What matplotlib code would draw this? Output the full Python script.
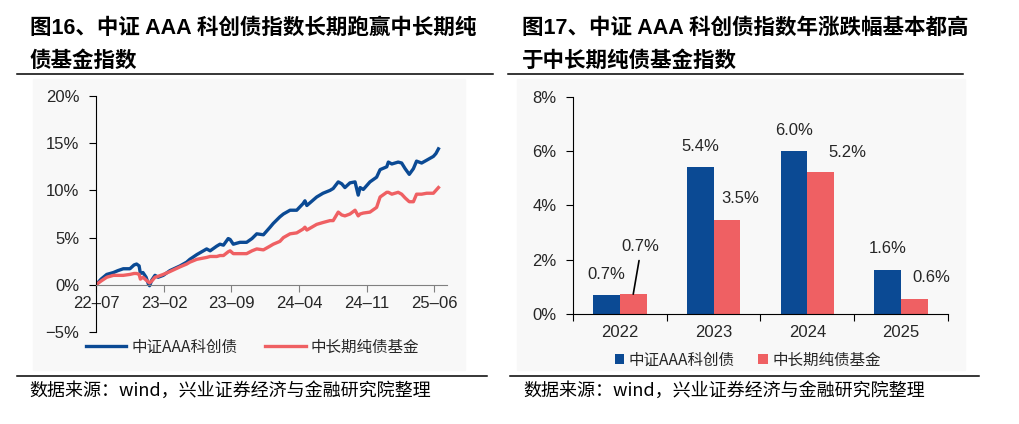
import numpy as np
import pandas as pd
import matplotlib
matplotlib.use("Agg")
import matplotlib.pyplot as plt
from matplotlib.ticker import FuncFormatter, FixedLocator
from matplotlib.patches import Rectangle
from matplotlib.lines import Line2D

plt.rcParams['font.family'] = ['Liberation Sans', 'Noto Sans CJK SC', 'DejaVu Sans']

# ---- data: 图16 cumulative returns (%) ----
dates = ['2022-07-01', '2022-07-17', '2022-08-04', '2022-08-25', '2022-09-08', '2022-09-25',
         '2022-10-16', '2022-10-29', '2022-11-06', '2022-11-14', '2022-11-18', '2022-11-26',
         '2022-12-06', '2022-12-13', '2022-12-17', '2022-12-24', '2023-01-03', '2023-01-13',
         '2023-01-29', '2023-02-19', '2023-03-23', '2023-04-13', '2023-04-23', '2023-05-15',
         '2023-06-15', '2023-06-26', '2023-07-17', '2023-07-27', '2023-08-07', '2023-08-22',
         '2023-08-28', '2023-09-07', '2023-09-28', '2023-10-19', '2023-11-05', '2023-11-20',
         '2023-12-11', '2024-01-01', '2024-01-11', '2024-02-01', '2024-02-12', '2024-03-04',
         '2024-03-25', '2024-04-14', '2024-04-20', '2024-04-26', '2024-05-27', '2024-06-16',
         '2024-07-08', '2024-07-18', '2024-08-03', '2024-08-14', '2024-08-24', '2024-09-09',
         '2024-09-25', '2024-10-05', '2024-10-11', '2024-10-21', '2024-11-11', '2024-12-02',
         '2024-12-13', '2025-01-03', '2025-01-08', '2025-01-19', '2025-02-08', '2025-02-19',
         '2025-03-02', '2025-03-15', '2025-03-28', '2025-04-07', '2025-04-23', '2025-05-09',
         '2025-05-30', '2025-06-07', '2025-06-15']
kcz = [0.0, 0.6, 1.1, 1.3, 1.5, 1.7, 1.7, 2.1, 2.2, 2.0,
       1.2, 1.3, 0.8, 0.1, -0.1, 0.5, 1.0, 0.8, 1.0, 1.5,
       2.0, 2.4, 2.7, 3.2, 3.8, 3.6, 4.1, 4.3, 4.2, 4.9,
       4.8, 4.3, 4.5, 4.5, 4.9, 5.4, 5.3, 6.1, 6.5, 7.2,
       7.5, 7.9, 7.9, 8.6, 8.9, 8.4, 9.3, 9.7, 10.0, 10.2,
       10.9, 10.7, 10.3, 10.8, 10.9, 9.5, 10.3, 10.1, 10.9, 11.4,
       12.2, 12.5, 13.0, 12.8, 13.0, 12.9, 12.3, 11.7, 12.3, 13.1,
       12.9, 13.2, 13.6, 13.9, 14.4]
fund = [0.0, 0.4, 0.8, 1.0, 1.0, 1.0, 1.1, 1.2, 1.2, 1.1,
        0.6, 0.8, 0.5, 0.3, 0.2, 0.4, 0.8, 0.9, 1.1, 1.4,
        1.9, 2.2, 2.4, 2.7, 2.9, 3.0, 3.0, 3.1, 3.1, 3.5,
        3.6, 3.3, 3.3, 3.3, 3.6, 3.8, 3.7, 4.1, 4.3, 4.6,
        5.0, 5.4, 5.5, 5.9, 6.1, 5.8, 6.4, 6.6, 6.8, 6.8,
        7.7, 7.4, 7.3, 7.5, 7.9, 7.3, 7.5, 7.6, 7.7, 8.2,
        9.3, 9.8, 9.8, 9.6, 9.8, 9.6, 9.2, 8.8, 8.8, 9.6,
        9.6, 9.7, 9.7, 10.0, 10.3]
xtick_dates = ['2022-07-01', '2023-02-01', '2023-09-01', '2024-04-01', '2024-11-01', '2025-06-01']

# ---- data: 图17 yearly returns (%) ----
years = ['2022', '2023', '2024', '2025']
kcz_year = [0.69, 5.40, 6.00, 1.62]
fund_year = [0.73, 3.47, 5.23, 0.56]
kcz_lbl = ['0.7%', '5.4%', '6.0%', '1.6%']
fund_lbl = ['0.7%', '3.5%', '5.2%', '0.6%']

name1 = '中证AAA科创债'
name2 = '中长期纯债基金'

BLUE = '#0b4a94'
RED = '#ef6063'
TXT = '#262626'
W, H = 1020, 424

fig = plt.figure(figsize=(W / 100, H / 100), dpi=100)


def fx(x):
    return x / W


def fy(y):
    return 1 - y / H


# panel backgrounds
for x0, x1 in [(33, 465), (517, 965)]:
    fig.patches.append(Rectangle((fx(x0), fy(370)), fx(x1 - x0), (370 - 79) / H,
                                 transform=fig.transFigure, color='#f8f8f8', zorder=-5))

# rules
for x0, x1, y in [(17, 493, 74), (508, 963, 74), (17, 487, 376), (510, 979, 376)]:
    fig.add_artist(Line2D([fx(x0), fx(x1)], [fy(y), fy(y)], transform=fig.transFigure,
                          color='black', lw=1.1))

# titles
tkw = dict(fontsize=15.5, fontweight='bold', va='center', color='black')
fig.text(fx(30), fy(28), '图16、中证 AAA 科创债指数长期跑赢中长期纯', **tkw)
fig.text(fx(30), fy(61), '债基金指数', **tkw)
fig.text(fx(522), fy(28), '图17、中证 AAA 科创债指数年涨跌幅基本都高', **tkw)
fig.text(fx(522), fy(61), '于中长期纯债基金指数', **tkw)

# sources
skw = dict(fontsize=13, va='center', color='black', family=['Noto Sans CJK SC'])
fig.text(fx(29), fy(391), '数据来源：wind，兴业证券经济与金融研究院整理', **skw)
fig.text(fx(523), fy(391), '数据来源：wind，兴业证券经济与金融研究院整理', **skw)

# ---- left: line chart ----
ax1 = fig.add_axes([fx(96), fy(332), fx(447 - 96), (332 - 96) / H])
ax1.set_facecolor('none')
d = pd.to_datetime(dates)
ax1.plot(d, kcz, color=BLUE, lw=2.4, label=name1)
ax1.plot(d, fund, color=RED, lw=2.4, label=name2)
ax1.set_ylim(-5, 20)
ax1.set_yticks(range(-5, 21, 5))
ax1.yaxis.set_major_formatter(FuncFormatter(lambda v, p: f'{v:.0f}%'.replace('-', '−')))
ax1.set_xlim(pd.Timestamp('2022-07-01'), pd.Timestamp('2025-07-12'))
ax1.set_xticks(pd.to_datetime(xtick_dates))
ax1.set_xticklabels([t[2:7].replace('-', '–') for t in xtick_dates])
for s in ['top', 'right']:
    ax1.spines[s].set_visible(False)
ax1.spines['bottom'].set_position(('data', 0))
ax1.spines['bottom'].set_color('#808080')
ax1.spines['left'].set_color('black')
ax1.tick_params(axis='x', length=5, color='#808080', pad=3, labelsize=12, labelcolor=TXT)
ax1.tick_params(axis='y', length=5, color='black', pad=7, labelsize=12, labelcolor=TXT)

h, l = ax1.get_legend_handles_labels()
fig.legend(h, l, loc='center left', bbox_to_anchor=(fx(86), fy(347)), ncol=2, frameon=False,
           handlelength=2.6, handletextpad=0.3, columnspacing=1.8, borderpad=0, borderaxespad=0,
           prop={'family': ['Noto Sans CJK SC'], 'size': 11.2}, labelcolor=TXT)

# ---- right: bar chart ----
ax2 = fig.add_axes([fx(573), fy(314), fx(948 - 573), (314 - 96.7) / H])
ax2.set_facecolor('none')
x = np.arange(len(years))
w = 0.285
ax2.bar(x - w / 2, kcz_year, w, color=BLUE, label=name1)
ax2.bar(x + w / 2, fund_year, w, color=RED, label=name2)
ax2.set_ylim(0, 8)
ax2.set_yticks(range(0, 9, 2))
ax2.yaxis.set_major_formatter(FuncFormatter(lambda v, p: f'{v:.0f}%'))
ax2.set_xlim(-0.5, len(years) - 0.5)
ax2.xaxis.set_major_locator(FixedLocator(np.arange(-0.5, len(years), 1)))
ax2.xaxis.set_major_formatter(FuncFormatter(lambda v, p: ''))
ax2.xaxis.set_minor_locator(FixedLocator(x))
ax2.set_xticklabels(years, minor=True)
for s in ['top', 'right']:
    ax2.spines[s].set_visible(False)
ax2.tick_params(axis='x', which='major', length=5, color='black')
ax2.tick_params(axis='x', which='minor', length=0, pad=8, labelsize=12, labelcolor=TXT)
ax2.tick_params(axis='y', length=5, color='black', pad=7, labelsize=12, labelcolor=TXT)

for i in range(len(years)):
    ax2.annotate(kcz_lbl[i], (x[i] - w / 2, kcz_year[i]), xytext=(0, 21),
                 textcoords='offset pixels', ha='center', va='center', fontsize=12, color=TXT)
red_off = [(7, 48), (13, 21), (27, 19), (17, 21)]
for i in range(len(years)):
    dx, dy = red_off[i]
    ap = None
    if i == 0:
        ap = dict(arrowstyle='-', color='black', lw=1.2, shrinkA=3, shrinkB=0,
                  relpos=(0.5, 0.0))
    ax2.annotate(fund_lbl[i], (x[i] + w / 2, fund_year[i]), xytext=(dx, dy),
                 textcoords='offset pixels', ha='center', va='center', fontsize=12,
                 color=TXT, arrowprops=ap)

h2, l2 = ax2.get_legend_handles_labels()
fig.legend(h2, l2, loc='center left', bbox_to_anchor=(fx(615), fy(360)), ncol=2, frameon=False,
           handlelength=0.6, handleheight=0.6, handletextpad=0.3, columnspacing=1.5,
           borderpad=0, borderaxespad=0,
           prop={'family': ['Noto Sans CJK SC'], 'size': 11.2}, labelcolor=TXT)

fig.savefig('out.png', dpi=100)
